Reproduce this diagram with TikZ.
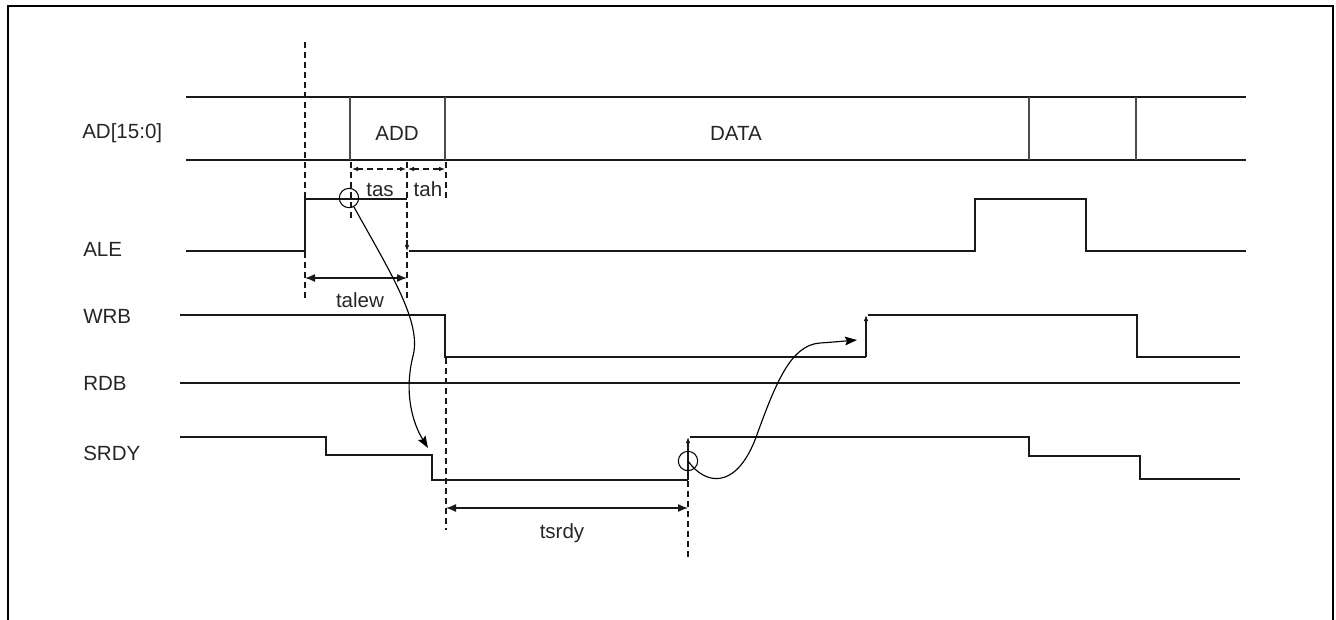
\documentclass[tikz,border=0pt]{standalone}
\usepackage{fontspec}
\setmainfont{Liberation Sans}
\usetikzlibrary{arrows.meta}
\begin{document}
\begin{tikzpicture}[x=0.75pt,y=-0.75pt,
  wave/.style={line width=0.95pt,black!90},
  dsh/.style={line width=0.8pt,black!90,dash pattern=on 4.5pt off 3pt},
  lbl/.style={font=\fontsize{15.4}{18}\selectfont,text=black!85,inner sep=0pt},
  sig/.style={lbl,anchor=base west},
  dimarrow/.style={line width=0.95pt,black!90,{Latex[length=7.5pt,width=6pt]}-{Latex[length=7.5pt,width=6pt]}},
  smallarrow/.style={-{Latex[length=4.5pt,width=3.5pt]}},
  cause/.style={line width=0.85pt,black,-{Stealth[length=9pt,width=6.5pt,inset=1.5pt]}},
  mark/.style={}]
\useasboundingbox (0,0) rectangle (1336,619);
% frame
\draw[line width=1.6pt] (8,622) -- (8,6) -- (1333,6) -- (1333,622);

% signal names
\node[sig] (lad) at (82,138) {AD[15:0]};
\node[sig] (lale) at (83,256) {ALE};
\node[sig] (lwrb) at (83,323) {WRB};
\node[sig] (lrdb) at (83,390) {RDB};
\node[sig] (lsrdy) at (83,460) {SRDY};

% AD bus
\draw[wave] (186,97) -- (1246,97);
\draw[wave] (186,160) -- (1246,160);
\foreach \x in {350,445,1029,1136} \draw[wave,black!70] (\x,97) -- (\x,160);
\node[lbl,anchor=base] (add) at (397,140) {ADD};
\node[lbl,anchor=base] (data) at (736,140) {DATA};

% ALE
\draw[wave] (186,251) -- (305,251) -- (305,199) -- (407,199);
\draw[wave] (409,251) -- (975,251) -- (975,199) -- (1086,199) -- (1086,251) -- (1246,251);

% WRB
\draw[wave] (180,315) -- (445,315) -- (445,357) -- (866,357);
\draw[wave] (868,315) -- (1137,315) -- (1137,357) -- (1240,357);
\draw[wave,smallarrow] (866,357) -- (866,315);

% RDB
\draw[wave] (180,383) -- (1240,383);

% SRDY
\draw[wave] (180,437) -- (326,437) -- (326,455) -- (432,455) -- (432,480) -- (688,480);
\draw[wave] (690,437) -- (1029,437) -- (1029,456) -- (1140,456) -- (1140,479) -- (1240,479);
\draw[wave,smallarrow] (688,480) -- (688,437);

% dashed reference lines
\draw[dsh] (305,42) -- (305,298);
\draw[dsh] (351,162) -- (351,222);
\draw[dsh] (407,162) -- (407,298);
\draw[dsh] (446,162) -- (446,202);
\draw[black!90,line width=0.8pt,smallarrow] (407,240) -- (407,251);
\draw[dsh] (446,358) -- (446,530);
\draw[dsh] (688,481) -- (688,560);

% tas / tah
\coordinate (tasL) at (352,169);
\coordinate (tasR) at (406,169);
\coordinate (tahL) at (408,169);
\coordinate (tahR) at (445,169);
\draw[dsh,{Latex[length=4.5pt,width=3.5pt]}-{Latex[length=4.5pt,width=3.5pt]}] (tasL) -- (tasR);
\draw[dsh,{Latex[length=4.5pt,width=3.5pt]}-{Latex[length=4.5pt,width=3.5pt]}] (tahL) -- (tahR);
\node[lbl,anchor=base] (tas) at (380,196) {tas};
\node[lbl,anchor=base] (tah) at (428,196) {tah};

% talew
\coordinate (taleL) at (305,278);
\coordinate (taleR) at (407,278);
\draw[dimarrow] (taleL) -- (taleR);
\node[lbl,anchor=base] (talew) at (360,307) {talew};

% tsrdy
\coordinate (tsL) at (446,508);
\coordinate (tsR) at (688,508);
\draw[dimarrow] (tsL) -- (tsR);
\node[lbl,anchor=base] (tsrdy) at (562,538) {tsrdy};

% circles and causal curves
\node[draw,circle,minimum size=14.5pt,inner sep=0pt,line width=0.8pt] (c1) at (349,198) {};
\node[draw,circle,minimum size=14.5pt,inner sep=0pt,line width=0.8pt] (c2) at (688,461) {};
\coordinate (e1) at (428,448);
\coordinate (e2) at (857,340);
\draw[cause] (c1) .. controls (390,272) and (422,322) .. (413,356) .. controls (404,392) and (412,422) .. (e1);
\draw[cause] (c2.center) .. controls (705,485) and (735,490) .. (755,440) .. controls (775,385) and (790,345) .. (820,343) .. controls (835,342) and (845,341) .. (e2);
\end{tikzpicture}
\end{document}
